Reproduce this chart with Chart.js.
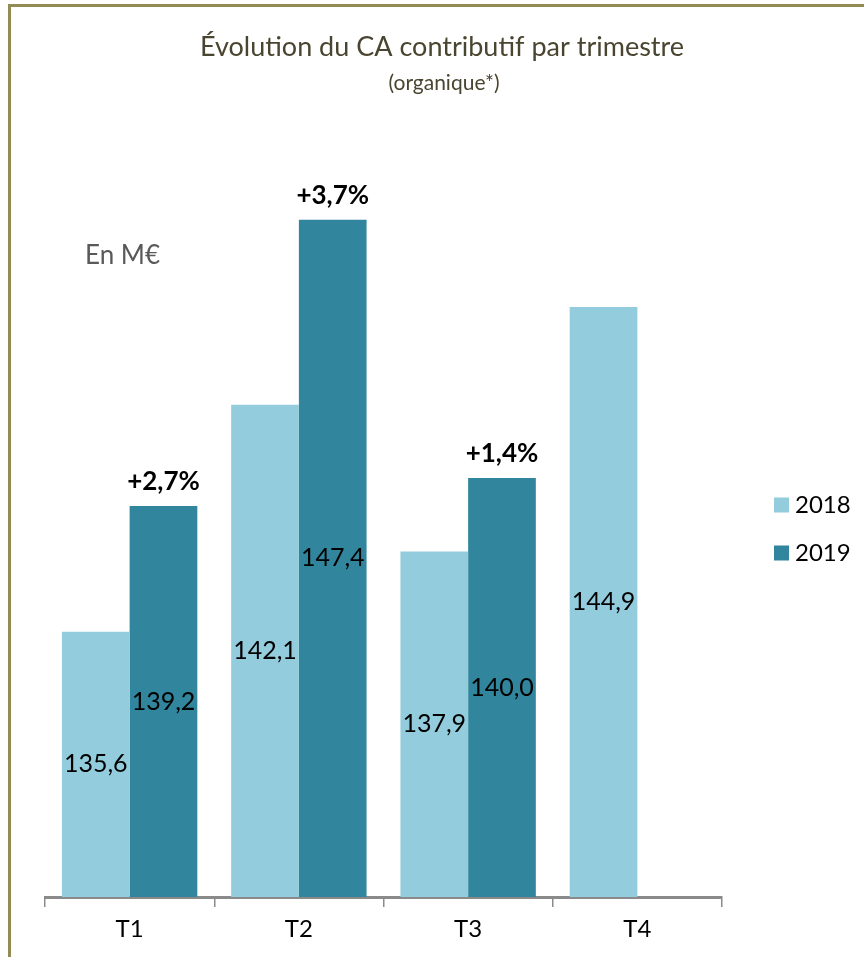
<!DOCTYPE html>
<html>
<head>
<meta charset="utf-8">
<script src="https://cdn.jsdelivr.net/npm/chart.js@4"></script>
<style>
html,body{margin:0;padding:0;background:#fff;}
#wrap{position:relative;width:864px;height:957px;}
#bl{position:absolute;left:8px;top:4px;width:3px;height:953px;background:#948A54;}
#bt{position:absolute;left:8px;top:4px;width:856px;height:3px;background:#948A54;}
canvas{position:absolute;left:0;top:0;}
</style>
</head>
<body>
<div id="wrap">
<canvas id="c"></canvas>
<div id="bl"></div><div id="bt"></div>
</div>
<script>
const categories = ['T1', 'T2', 'T3', 'T4'];
const series2018 = [135.6, 142.1, 137.9, 144.9];
const series2019 = [139.2, 147.4, 140.0, null];
const growthLabels = ['+2,7%', '+3,7%', '+1,4%', null];
const titleText = 'Évolution du CA contributif par trimestre';
const subtitleText = '(organique*)';
const unitText = 'En M€';

const FONT = 'Lato, "Open Sans", sans-serif';
const fmt = v => v.toFixed(1).replace('.', ',');

const labelsPlugin = {
  id: 'labelsPlugin',
  afterDatasetsDraw(chart) {
    const ctx = chart.ctx;
    const yScale = chart.scales.y;
    ctx.save();
    ctx.textAlign = 'center';
    ctx.textBaseline = 'middle';
    // title & subtitle
    ctx.fillStyle = '#4A4530';
    ctx.font = '27px ' + FONT;
    ctx.fillText(titleText, 442, 47);
    ctx.font = '21px ' + FONT;
    ctx.fillText(subtitleText, 444, 83);
    chart.data.datasets.forEach((ds, di) => {
      const meta = chart.getDatasetMeta(di);
      meta.data.forEach((bar, i) => {
        const v = ds.data[i];
        if (v == null) return;
        const top = yScale.getPixelForValue(v);
        const base = yScale.getPixelForValue(yScale.min);
        const mid = (top + base) / 2;
        ctx.font = '25px ' + FONT;
        ctx.fillStyle = '#000';
        ctx.fillText(fmt(v), bar.x, mid);
        if (di === 1 && growthLabels[i]) {
          ctx.font = 'bold 26px ' + FONT;
          ctx.fillText(growthLabels[i], bar.x, top - 24);
        }
      });
    });
    // unit text
    ctx.textAlign = 'left';
    ctx.font = '26px ' + FONT;
    ctx.fillStyle = '#595959';
    ctx.fillText(unitText, chart.chartArea.left + 40, 256);
    // legend
    const lx = chart.chartArea.right + 52;
    chart.data.datasets.forEach((ds, di) => {
      const cy = 505 + di * 48;
      ctx.fillStyle = ds.backgroundColor;
      ctx.fillRect(lx, cy - 7.5, 15, 15);
      ctx.fillStyle = '#000';
      ctx.font = '24px ' + FONT;
      ctx.fillText(ds.label, lx + 21, cy);
    });
    ctx.restore();
  }
};

new Chart(document.getElementById('c'), {
  type: 'bar',
  data: {
    labels: categories,
    datasets: [
      { label: '2018', data: series2018, backgroundColor: '#93CDDD', barPercentage: 1.0, categoryPercentage: 0.8 },
      { label: '2019', data: series2019, backgroundColor: '#31859C', barPercentage: 1.0, categoryPercentage: 0.8 }
    ]
  },
  options: {
    responsive: true,
    maintainAspectRatio: false,
    animation: false,
    layout: { padding: { left: 45, right: 142, top: 129, bottom: 6 } },
    plugins: {
      legend: { display: false },
      tooltip: { enabled: false },
      title: { display: false },
      subtitle: { display: false }
    },
    scales: {
      x: {
        grid: { display: true, drawOnChartArea: false, offset: true, tickLength: 10, color: '#8A8A8A', lineWidth: 1.5 },
        border: { display: true, color: '#8A8A8A', width: 3 },
        ticks: { color: '#000', font: { family: FONT, size: 24 }, padding: 7.6 }
      },
      y: {
        display: false, min: 128, max: 150
      }
    }
  },
  plugins: [labelsPlugin]
});
</script>
</body>
</html>
